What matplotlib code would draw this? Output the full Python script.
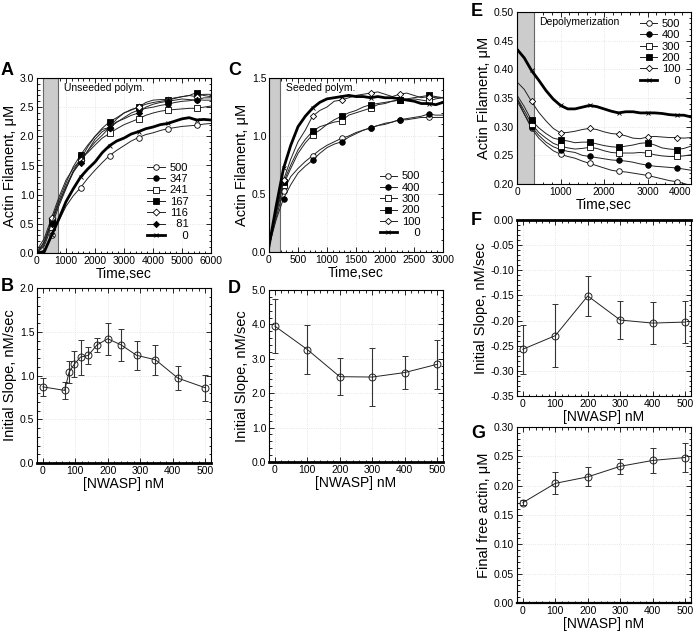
import numpy as np
import matplotlib
matplotlib.use("Agg")
from matplotlib import pyplot as plt
from matplotlib.ticker import MultipleLocator, FormatStrFormatter

plt.rcParams["font.family"] = ["Liberation Sans", "DejaVu Sans"]
plt.rcParams["font.size"] = 7.5
plt.rcParams["axes.linewidth"] = 0.8

FS = "\u2007"  # figure space, keeps legend numbers right aligned

# ---- panel A: unseeded polymerization (time in sec, actin filament in uM)
time_a = np.arange(0, 6001, 250)
a_500 = [0.00, 0.05, 0.30, 0.55, 0.80, 0.98, 1.12, 1.28, 1.42, 1.55, 1.67, 1.76, 1.84,
         1.92, 1.98, 2.03, 2.06, 2.10, 2.13, 2.15, 2.17, 2.18, 2.19, 2.21, 2.22]
a_347 = [0.00, 0.20, 0.55, 0.85, 1.12, 1.38, 1.57, 1.75, 1.90, 2.02, 2.15, 2.24, 2.32,
         2.40, 2.45, 2.48, 2.50, 2.53, 2.55, 2.58, 2.60, 2.61, 2.63, 2.62, 2.62]
a_241 = [0.00, 0.12, 0.45, 0.80, 1.10, 1.40, 1.62, 1.72, 1.85, 1.97, 2.05, 2.13, 2.20,
         2.25, 2.30, 2.36, 2.40, 2.43, 2.45, 2.46, 2.47, 2.48, 2.48, 2.50, 2.52]
a_167 = [0.00, 0.15, 0.55, 0.90, 1.20, 1.48, 1.68, 1.85, 2.00, 2.14, 2.25, 2.32, 2.40,
         2.46, 2.50, 2.55, 2.58, 2.60, 2.62, 2.65, 2.68, 2.70, 2.75, 2.70, 2.68]
a_116 = [0.05, 0.25, 0.60, 0.95, 1.25, 1.45, 1.60, 1.82, 2.00, 2.12, 2.15, 2.30, 2.40,
         2.45, 2.50, 2.58, 2.62, 2.63, 2.63, 2.66, 2.68, 2.70, 2.68, 2.72, 2.72]
a_81 = [0.02, 0.18, 0.50, 0.85, 1.15, 1.40, 1.55, 1.75, 1.95, 2.08, 2.15, 2.25, 2.30,
        2.36, 2.40, 2.50, 2.55, 2.58, 2.60, 2.62, 2.64, 2.63, 2.62, 2.66, 2.66]
a_0 = [0.00, 0.02, 0.30, 0.58, 0.88, 1.10, 1.30, 1.44, 1.56, 1.72, 1.84, 1.92, 1.97,
       2.04, 2.08, 2.13, 2.16, 2.20, 2.22, 2.26, 2.30, 2.32, 2.28, 2.29, 2.28]

# ---- panel B: initial slope vs NWASP
nwasp_b = [0, 67, 81, 97, 116, 140, 167, 200, 241, 289, 347, 416, 500]
slope_b = [0.87, 0.83, 1.04, 1.13, 1.21, 1.23, 1.35, 1.42, 1.35, 1.23, 1.18, 0.97, 0.86]
err_b = [0.10, 0.10, 0.13, 0.15, 0.20, 0.10, 0.08, 0.18, 0.18, 0.17, 0.17, 0.14, 0.15]

# ---- panel C: seeded polymerization
time_c = np.arange(0, 3001, 125)
c_500 = [0.05, 0.30, 0.53, 0.65, 0.72, 0.78, 0.83, 0.88, 0.92, 0.95, 0.98, 1.00, 1.03,
         1.05, 1.07, 1.09, 1.10, 1.12, 1.14, 1.14, 1.15, 1.16, 1.16, 1.16, 1.16]
c_400 = [0.05, 0.28, 0.46, 0.58, 0.68, 0.74, 0.79, 0.85, 0.90, 0.93, 0.95, 0.99, 1.02,
         1.05, 1.07, 1.09, 1.11, 1.12, 1.14, 1.15, 1.16, 1.17, 1.19, 1.18, 1.18]
c_300 = [0.05, 0.33, 0.58, 0.72, 0.85, 0.94, 1.01, 1.05, 1.10, 1.12, 1.13, 1.18, 1.20,
         1.22, 1.24, 1.27, 1.28, 1.30, 1.31, 1.31, 1.32, 1.31, 1.30, 1.32, 1.33]
c_200 = [0.05, 0.35, 0.60, 0.75, 0.88, 0.97, 1.04, 1.08, 1.10, 1.14, 1.17, 1.20, 1.22,
         1.25, 1.27, 1.28, 1.29, 1.30, 1.31, 1.32, 1.33, 1.34, 1.35, 1.34, 1.33]
c_100 = [0.05, 0.35, 0.62, 0.80, 0.95, 1.05, 1.17, 1.22, 1.25, 1.30, 1.31, 1.33, 1.35,
         1.36, 1.37, 1.38, 1.36, 1.34, 1.36, 1.37, 1.35, 1.33, 1.34, 1.33, 1.33]
c_0 = [0.05, 0.40, 0.72, 0.92, 1.08, 1.17, 1.24, 1.29, 1.32, 1.33, 1.34, 1.35, 1.34,
       1.34, 1.33, 1.34, 1.33, 1.33, 1.32, 1.31, 1.30, 1.28, 1.28, 1.27, 1.29]

# ---- panel D: initial slope (seeded)
nwasp_6 = [0, 100, 200, 300, 400, 500]
slope_d = [3.95, 3.27, 2.48, 2.47, 2.60, 2.84]
err_d = [0.78, 0.72, 0.53, 0.83, 0.49, 0.72]

# ---- panel E: depolymerization
time_e = np.linspace(0, 4000, 25)
e_500 = [0.350, 0.322, 0.297, 0.280, 0.268, 0.258, 0.252, 0.248, 0.245, 0.240, 0.236,
         0.232, 0.228, 0.224, 0.222, 0.221, 0.219, 0.217, 0.215, 0.212, 0.209, 0.206,
         0.204, 0.201, 0.197]
e_400 = [0.345, 0.322, 0.300, 0.285, 0.273, 0.265, 0.260, 0.257, 0.255, 0.250, 0.248,
         0.246, 0.244, 0.242, 0.241, 0.240, 0.238, 0.235, 0.233, 0.231, 0.230, 0.229,
         0.228, 0.226, 0.224]
e_300 = [0.350, 0.328, 0.305, 0.290, 0.280, 0.271, 0.266, 0.263, 0.261, 0.262, 0.264,
         0.262, 0.258, 0.255, 0.254, 0.254, 0.254, 0.255, 0.254, 0.251, 0.249, 0.248,
         0.248, 0.249, 0.251]
e_200 = [0.355, 0.335, 0.311, 0.298, 0.288, 0.280, 0.277, 0.275, 0.272, 0.273, 0.273,
         0.270, 0.267, 0.265, 0.264, 0.266, 0.268, 0.271, 0.272, 0.268, 0.263, 0.261,
         0.260, 0.262, 0.266]
e_100 = [0.378, 0.365, 0.344, 0.325, 0.310, 0.297, 0.289, 0.290, 0.292, 0.295, 0.297,
         0.295, 0.291, 0.288, 0.287, 0.284, 0.280, 0.279, 0.282, 0.283, 0.282, 0.281,
         0.281, 0.280, 0.281]
e_0 = [0.435, 0.420, 0.398, 0.381, 0.363, 0.348, 0.337, 0.331, 0.331, 0.334, 0.337,
       0.335, 0.331, 0.327, 0.324, 0.326, 0.326, 0.324, 0.324, 0.324, 0.323, 0.321,
       0.320, 0.320, 0.317]

# ---- panel F / G
slope_f = [-0.257, -0.230, -0.151, -0.199, -0.205, -0.203]
err_f = [0.049, 0.062, 0.039, 0.038, 0.041, 0.041]
free_g = [0.171, 0.204, 0.215, 0.233, 0.243, 0.248]
err_g = [0.004, 0.019, 0.016, 0.013, 0.021, 0.024]

W, H = 700, 631
fig = plt.figure(figsize=(7, 6.31), dpi=100)


def box(l, t, r, b):
    return fig.add_axes([l / W, 1 - b / H, (r - l) / W, (b - t) / H])


def style(ax, xmaj, xmin, ymaj, ymin, yfmt):
    ax.xaxis.set_major_locator(MultipleLocator(xmaj))
    ax.xaxis.set_minor_locator(MultipleLocator(xmin))
    ax.yaxis.set_major_locator(MultipleLocator(ymaj))
    ax.yaxis.set_minor_locator(MultipleLocator(ymin))
    ax.yaxis.set_major_formatter(FormatStrFormatter(yfmt))
    ax.tick_params(which="both", direction="in", top=True, right=True,
                   labelsize=7.5, width=0.6, pad=2)
    ax.tick_params(which="major", length=3.5)
    ax.tick_params(which="minor", length=1.8)
    ax.grid(True, which="major", color="#dedede", ls=":", lw=0.6)
    ax.set_axisbelow(True)


styles = {
    "500": dict(marker="o", mfc="white"),
    "400": dict(marker="o", mfc="black"),
    "347": dict(marker="o", mfc="black"),
    "300": dict(marker="s", mfc="white"),
    "241": dict(marker="s", mfc="white"),
    "200": dict(marker="s", mfc="black"),
    "167": dict(marker="s", mfc="black"),
    "116": dict(marker="D", mfc="white", ms=3.5),
    "100": dict(marker="D", mfc="white", ms=3.2),
    "81": dict(marker="D", mfc="black", ms=3.2),
}


def curves(ax, t, series, labels):
    for y, lab in zip(series, labels):
        if lab == "0":
            ax.plot(t, y, "-", color="black", lw=2.0, marker="x", ms=3.5,
                    mew=0.6, markevery=slice(2, None, 4), label=FS * 2 + "0")
        else:
            st = dict(ms=4, mec="black", mew=0.6)
            st.update(styles[lab])
            ax.plot(t, y, "-", color="#222222", lw=0.7,
                    markevery=slice(2, None, 4),
                    label=FS * (3 - len(lab)) + lab, **st)


def legend(ax, loc, anchor):
    ax.legend(loc=loc, bbox_to_anchor=anchor, frameon=False, fontsize=8,
              handlelength=1.6, handletextpad=0.4, labelspacing=0.12,
              borderpad=0, borderaxespad=0)


def slope_plot(ax, x, y, err):
    ax.errorbar(x, y, yerr=err, fmt="-o", color="#222222", lw=0.7, ms=5,
                mfc="none", mec="#222222", mew=0.7, ecolor="#333333",
                elinewidth=0.8, capsize=2, capthick=0.7)
    ax.set_xlim(-18, 518)
    ax.set_xlabel("[NWASP] nM", fontsize=10, labelpad=1)


# A
ax = box(37, 78, 211, 253)
ax.axvspan(200, 720, facecolor="#cccccc", edgecolor="#666666", lw=0.8, zorder=1)
curves(ax, time_a, [a_500, a_347, a_241, a_167, a_116, a_81, a_0],
       ["500", "347", "241", "167", "116", "81", "0"])
ax.set_xlim(0, 6000)
ax.set_ylim(0, 3.0)
style(ax, 1000, 200, 0.5, 0.1, "%.1f")
ax.text(920, 2.92, "Unseeded polym.", fontsize=7.5, va="top")
legend(ax, "lower right", (0.87, 0.07))
ax.set_xlabel("Time,sec", fontsize=10, labelpad=1)
ax.set_ylabel("Actin Filament, \u03bcM", fontsize=10.5, labelpad=2)

# B
ax = box(37, 288, 211, 463)
slope_plot(ax, nwasp_b, slope_b, err_b)
ax.set_ylim(0, 2.0)
style(ax, 100, 20, 0.5, 0.1, "%.1f")
ax.spines["bottom"].set_linewidth(2)
ax.set_ylabel("Initial Slope, nM/sec", fontsize=10.5, labelpad=2)

# C
ax = box(269, 78, 443, 252)
ax.axvspan(0, 190, facecolor="#cccccc", edgecolor="#666666", lw=0.8, zorder=1)
curves(ax, time_c, [c_500, c_400, c_300, c_200, c_100, c_0],
       ["500", "400", "300", "200", "100", "0"])
ax.set_xlim(0, 3000)
ax.set_ylim(0, 1.5)
style(ax, 500, 100, 0.5, 0.1, "%.1f")
ax.text(290, 1.46, "Seeded polym.", fontsize=7.5, va="top")
legend(ax, "lower right", (0.87, 0.08))
ax.set_xlabel("Time,sec", fontsize=10, labelpad=1)
ax.set_ylabel("Actin Filament, \u03bcM", fontsize=10.5, labelpad=2)

# D
ax = box(269, 290, 443, 462)
slope_plot(ax, nwasp_6, slope_d, err_d)
ax.set_ylim(0, 5.0)
style(ax, 100, 20, 1.0, 0.2, "%.1f")
ax.spines["bottom"].set_linewidth(2)
ax.set_ylabel("Initial Slope, nM/sec", fontsize=10.5, labelpad=2)

# E
ax = box(517, 12, 691, 184)
ax.axvspan(0, 400, facecolor="#cccccc", edgecolor="#666666", lw=0.8, zorder=1)
curves(ax, time_e, [e_500, e_400, e_300, e_200, e_100, e_0],
       ["500", "400", "300", "200", "100", "0"])
ax.set_xlim(0, 4000)
ax.set_ylim(0.2, 0.5)
style(ax, 1000, 200, 0.05, 0.01, "%.2f")
ax.text(500, 0.492, "Depolymerization", fontsize=7.5, va="top")
legend(ax, "upper right", (0.94, 0.96))
ax.set_xlabel("Time,sec", fontsize=10, labelpad=1)
ax.set_ylabel("Actin Filament, \u03bcM", fontsize=10.5, labelpad=2)
for lbl in ax.get_xticklabels():
    if lbl.get_text() == "4000":
        lbl.set_horizontalalignment("right")
        lbl.set_x(4000)
ax.tick_params(axis="x", labelsize=7.3)

# F
ax = box(517, 220, 691, 396)
slope_plot(ax, nwasp_6, slope_f, err_f)
ax.set_ylim(-0.35, 0.0)
style(ax, 100, 20, 0.05, 0.01, "%.2f")
ax.spines["top"].set_linewidth(2)
ax.set_ylabel("Initial Slope, nM/sec", fontsize=10.5, labelpad=2)

# G
ax = box(517, 427, 691, 603)
slope_plot(ax, nwasp_6, free_g, err_g)
ax.set_ylim(0, 0.30)
style(ax, 100, 20, 0.05, 0.01, "%.2f")
ax.spines["bottom"].set_linewidth(1.6)
ax.set_ylabel("Final free actin, \u03bcM", fontsize=10.5, labelpad=2)

for lab, x, y in [("A", 1, 75), ("B", 1, 291), ("C", 228, 75), ("D", 228, 293),
                  ("E", 471, 16), ("F", 471, 225), ("G", 471, 438)]:
    fig.text(x / W, 1 - y / H, lab, fontsize=13, fontweight="bold",
             ha="left", va="baseline")

fig.savefig("out.png", dpi=100)
